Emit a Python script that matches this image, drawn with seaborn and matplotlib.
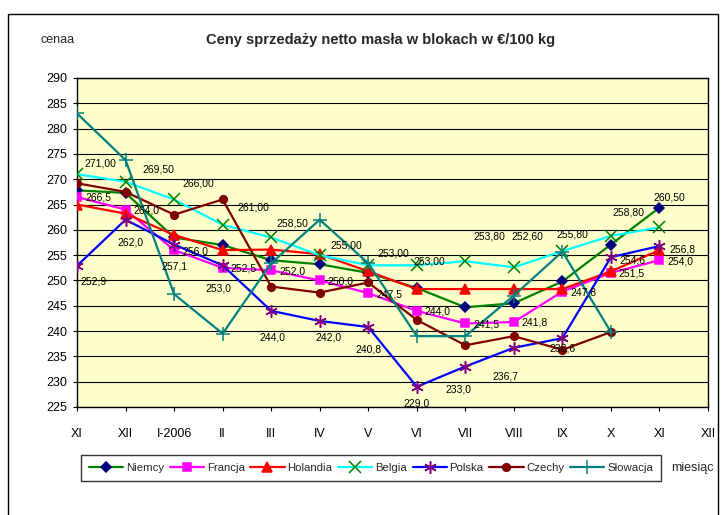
import numpy as np
import pandas as pd
import seaborn as sns
import matplotlib.pyplot as plt
from matplotlib.lines import Line2D
from matplotlib.patches import Rectangle

# kategorie (miesiące)
months = ["XI", "XII", "I-2006", "II", "III", "IV", "V", "VI", "VII", "VIII", "IX", "X", "XI", "XII"]

# ceny w EUR/100 kg
niemcy = [267.8, 267.3, 258.5, 257.0, 254.0, 253.2, 251.5, 248.5, 244.7, 245.5, 249.8, 257.1, 264.4]
francja = [266.5, 264.0, 256.0, 252.5, 252.0, 250.0, 247.5, 244.0, 241.5, 241.8, 247.8, 251.5, 254.0]
holandia = [265.0, 263.2, 259.0, 256.0, 256.1, 255.2, 251.8, 248.3, 248.3, 248.3, 248.3, 251.8, 256.0]
belgia = [271.0, 269.5, 266.0, 261.0, 258.5, 255.0, 253.0, 253.0, 253.8, 252.6, 255.8, 258.8, 260.5]
polska = [252.9, 262.0, 257.1, 253.0, 244.0, 242.0, 240.8, 229.0, 233.0, 236.7, 238.6, 254.6, 256.8]
czechy = [269.2, 267.5, 263.0, 266.0, 248.8, 247.6, 249.6, 242.2, 237.2, 239.0, 236.3, 239.8, np.nan]
slowacja = [283.0, 273.8, 247.3, 239.5, 253.4, 262.0, 253.4, 239.0, 239.0, 247.0, 255.7, 239.8, np.nan]

names = ["Niemcy", "Francja", "Holandia", "Belgia", "Polska", "Czechy", "Słowacja"]
series = [niemcy, francja, holandia, belgia, polska, czechy, slowacja]

# styl: kolor linii, marker, kolor markera, rozmiar
styles = {
    "Niemcy": ("#008000", "D", "#000080", 5.5),
    "Francja": ("#FF00FF", "s", "#FF00FF", 5.5),
    "Holandia": ("#FF0000", "^", "#FF0000", 6.5),
    "Belgia": ("#00FFFF", "x", "#008000", 8),
    "Polska": ("#0000FF", (6, 2, 0), "#800080", 9),
    "Czechy": ("#800000", "o", "#800000", 5.5),
    "Słowacja": ("#008080", "+", "#008080", 10),
}

# przesunięcia etykiet danych (piksele, w dół = dodatnie)
belgia_off = [(23, -11), (33, -12), (24, -16), (31, -17), (21, -14), (27, -10), (25, -12),
              (13, -4), (24, -25), (14, -31), (10, -17), (18, -23), (10, -30)]
francja_off = [(21, 1)] * 13
polska_off = [(17, 16), (5, 23), (0, 22), (-4, 23), (1, 27), (9, 17), (0, 22),
              (0, 17), (-7, 23), (-8, 29), (0, 10), (22, 3), (23, 3)]

sns.set_style("ticks")
plt.rcParams["font.family"] = ["Liberation Sans Narrow", "Liberation Sans", "DejaVu Sans"]

fig = plt.figure(figsize=(7.26, 5.15), dpi=100)
ax = fig.add_axes([77 / 726, 1 - 407 / 515, (708 - 77) / 726, (407 - 78) / 515])
ax.set_facecolor("#FFFFCC")

xpos = np.arange(len(months))
handles = []
for name, vals in zip(names, series):
    lc, mk, mc, ms = styles[name]
    x = xpos[:len(vals)]
    sns.lineplot(x=x, y=vals, ax=ax, color=lc, linewidth=1.6, marker=mk,
                 markersize=ms, markerfacecolor=mc, markeredgecolor=mc,
                 markeredgewidth=1.1, zorder=3)
    handles.append(Line2D([], [], color=lc, linewidth=1.6, marker=mk, markersize=ms,
                          markerfacecolor=mc, markeredgecolor=mc, markeredgewidth=1.1))

if ax.get_legend():
    ax.get_legend().remove()

def add_labels(vals, offs, fmt):
    for i, (v, (dx, dy)) in enumerate(zip(vals, offs)):
        ax.annotate(fmt.format(v).replace(".", ","), (i, v), xytext=(dx, -dy),
                    textcoords="offset pixels", ha="center", va="center",
                    fontsize=7.5, color="black", zorder=5)

add_labels(belgia, belgia_off, "{:.2f}")
add_labels(francja, francja_off, "{:.1f}")
add_labels(polska, polska_off, "{:.1f}")

ax.set_xlim(0, len(months) - 1)
ax.set_ylim(225, 290)
ax.set_yticks(np.arange(225, 291, 5))
ax.set_xticks(xpos)
ax.set_xticklabels(months)
ax.grid(axis="y", color="black", linewidth=0.8)
ax.grid(axis="x", visible=False)
ax.set_axisbelow(True)
for s in ax.spines.values():
    s.set_color("black")
    s.set_linewidth(1)
ax.tick_params(axis="y", direction="out", length=3, pad=4, labelsize=9, colors="black")
ax.tick_params(axis="x", direction="out", length=3, pad=12, labelsize=9, colors="black")
ax.set_xlabel("")
ax.set_ylabel("")

fig.text(381 / 726, 1 - 40 / 515, "Ceny sprzedaży netto masła w blokach w €/100 kg",
         ha="center", va="center", fontsize=10.5, fontweight="bold")
fig.text(58 / 726, 1 - 40 / 515, "cenaa", ha="center", va="center", fontsize=9)
fig.text(692 / 726, 1 - 468 / 515, "miesiąc", ha="center", va="center", fontsize=9)

leg = fig.legend(handles, names, loc="center", bbox_to_anchor=(371 / 726, 1 - 468 / 515),
                 ncol=7, frameon=True, fancybox=False, edgecolor="black", fontsize=8.2,
                 handlelength=3.0, columnspacing=0.5, handletextpad=0.25, borderpad=0.7)
leg.get_frame().set_linewidth(1)

fig.patches.append(Rectangle((8 / 726, -0.05), (718 - 8) / 726, (515 - 14) / 515 + 0.05,
                             transform=fig.transFigure, fill=False, edgecolor="black",
                             linewidth=1))

fig.savefig("out.png", dpi=100, facecolor="white")
